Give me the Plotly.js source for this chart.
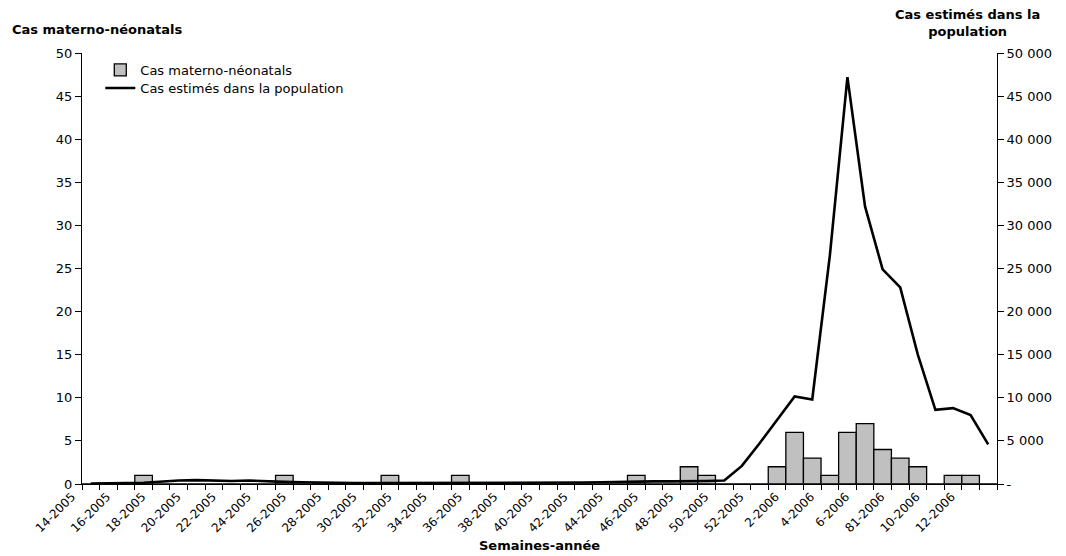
<!DOCTYPE html>
<html>
<head>
<meta charset="utf-8">
<script src="https://cdn.plot.ly/plotly-3.0.1.min.js"></script>
<style>html,body{margin:0;padding:0;background:#fff;}#chart{width:1066px;height:556px;}</style>
</head>
<body>
<div id="chart"></div>
<script>
// Weeks (categories)
var weeks = ["14-2005","15-2005","16-2005","17-2005","18-2005","19-2005","20-2005","21-2005","22-2005","23-2005",
  "24-2005","25-2005","26-2005","27-2005","28-2005","29-2005","30-2005","31-2005","32-2005","33-2005",
  "34-2005","35-2005","36-2005","37-2005","38-2005","39-2005","40-2005","41-2005","42-2005","43-2005",
  "44-2005","45-2005","46-2005","47-2005","48-2005","49-2005","50-2005","51-2005","52-2005",
  "1-2006","2-2006","3-2006","4-2006","5-2006","6-2006","7-2006","8-2006","9-2006","10-2006","11-2006","12-2006","13-2006"];
// Tick labels shown (every other week, as printed)
var tickLabels = ["14-2005","","16-2005","","18-2005","","20-2005","","22-2005","",
  "24-2005","","26-2005","","28-2005","","30-2005","","32-2005","",
  "34-2005","","36-2005","","38-2005","","40-2005","","42-2005","",
  "44-2005","","46-2005","","48-2005","","50-2005","","52-2005",
  "","2-2006","","4-2006","","6-2006","","81-2006","","10-2006","","12-2006",""];
// Maternal-neonatal cases (bars, left axis)
var casMaterno = [0,0,0,1,0,0,0,0,0,0,
  0,1,0,0,0,0,0,1,0,0,
  0,1,0,0,0,0,0,0,0,0,
  0,1,0,0,2,1,0,0,0,
  2,6,3,1,6,7,4,3,2,0,1,1,0];
// Estimated cases in population (line, right axis)
var casEstimes = [50,50,100,150,300,400,450,400,350,400,
  300,250,200,150,120,100,100,100,100,100,
  100,100,100,100,100,120,150,150,180,200,
  250,300,300,300,300,350,400,2100,4700,
  7400,10150,9800,26500,47200,32200,24900,22800,15000,8600,8800,8000,4600];

var leftTickVals = [0,5,10,15,20,25,30,35,40,45,50];
var rightTickVals = [0,5000,10000,15000,20000,25000,30000,35000,40000,45000,50000];
var rightTickText = ["-","5 000","10 000","15 000","20 000","25 000","30 000","35 000","40 000","45 000","50 000"];

var font = "DejaVu Sans, Verdana, sans-serif";

var traces = [
  {
    type: "bar", name: "Cas materno-néonatals", x: weeks, y: casMaterno,
    marker: {color: "#c0c0c0", line: {color: "#000", width: 1.3}},
    yaxis: "y", legend: "legend"
  },
  {
    type: "scatter", mode: "lines", name: "Cas estimés dans la population", x: weeks, y: casEstimes,
    line: {color: "#000", width: 2.6}, yaxis: "y2", legend: "legend2"
  }
];

var legendBase = {xanchor: "left", yanchor: "middle", bgcolor: "rgba(0,0,0,0)",
  font: {family: font, size: 13, color: "#000"}, itemwidth: 30, borderwidth: 0};

var layout = {
  width: 1066, height: 556,
  margin: {l: 82, r: 69, t: 53, b: 72},
  paper_bgcolor: "#fff", plot_bgcolor: "#fff",
  font: {family: font, size: 13, color: "#000"},
  bargap: 0,
  showlegend: true,
  legend: Object.assign({}, legendBase, {x: 0.02, y: 0.9606}),
  legend2: Object.assign({}, legendBase, {x: 0.02, y: 0.9188}),
  xaxis: {
    type: "category", categoryorder: "array", categoryarray: weeks,
    tickmode: "array", tickvals: weeks, ticktext: tickLabels,
    tickangle: -45, tickson: "boundaries", ticks: "outside", ticklen: 5, tickcolor: "#000",
    showline: true, linecolor: "#000", linewidth: 1, showgrid: false, zeroline: false,
    tickfont: {family: font, size: 12}, ticklabelshift: -19,
    range: [-0.5, 51.5]
  },
  yaxis: {
    range: [0, 50], tickmode: "array", tickvals: leftTickVals,
    ticks: "outside", ticklen: 6, tickcolor: "#000", showline: true, linecolor: "#000", linewidth: 1,
    showgrid: false, zeroline: false, tickfont: {family: font, size: 13}
  },
  yaxis2: {
    overlaying: "y", side: "right", range: [0, 50000],
    tickmode: "array", tickvals: rightTickVals, ticktext: rightTickText,
    ticks: "outside", ticklen: 6, tickcolor: "#000", showline: true, linecolor: "#000", linewidth: 1,
    showgrid: false, zeroline: false, tickfont: {family: font, size: 13}
  },
  annotations: [
    {text: "<b>Cas materno-néonatals</b>", xref: "paper", yref: "paper", x: -0.0788, y: 1.0534,
      xanchor: "left", yanchor: "middle", showarrow: false, font: {family: font, size: 13}},
    {text: "<b>Cas estimés dans la<br>population</b>", xref: "paper", yref: "paper", x: 0.9678, y: 1.028,
      xanchor: "center", yanchor: "bottom", showarrow: false, font: {family: font, size: 13}},
    {text: "<b>Semaines-année</b>", xref: "paper", yref: "paper", x: 0.5, y: -0.142,
      xanchor: "center", yanchor: "middle", showarrow: false, font: {family: font, size: 13}}
  ]
};

Plotly.newPlot("chart", traces, layout, {displayModeBar: false, staticPlot: true});
</script>
</body>
</html>
